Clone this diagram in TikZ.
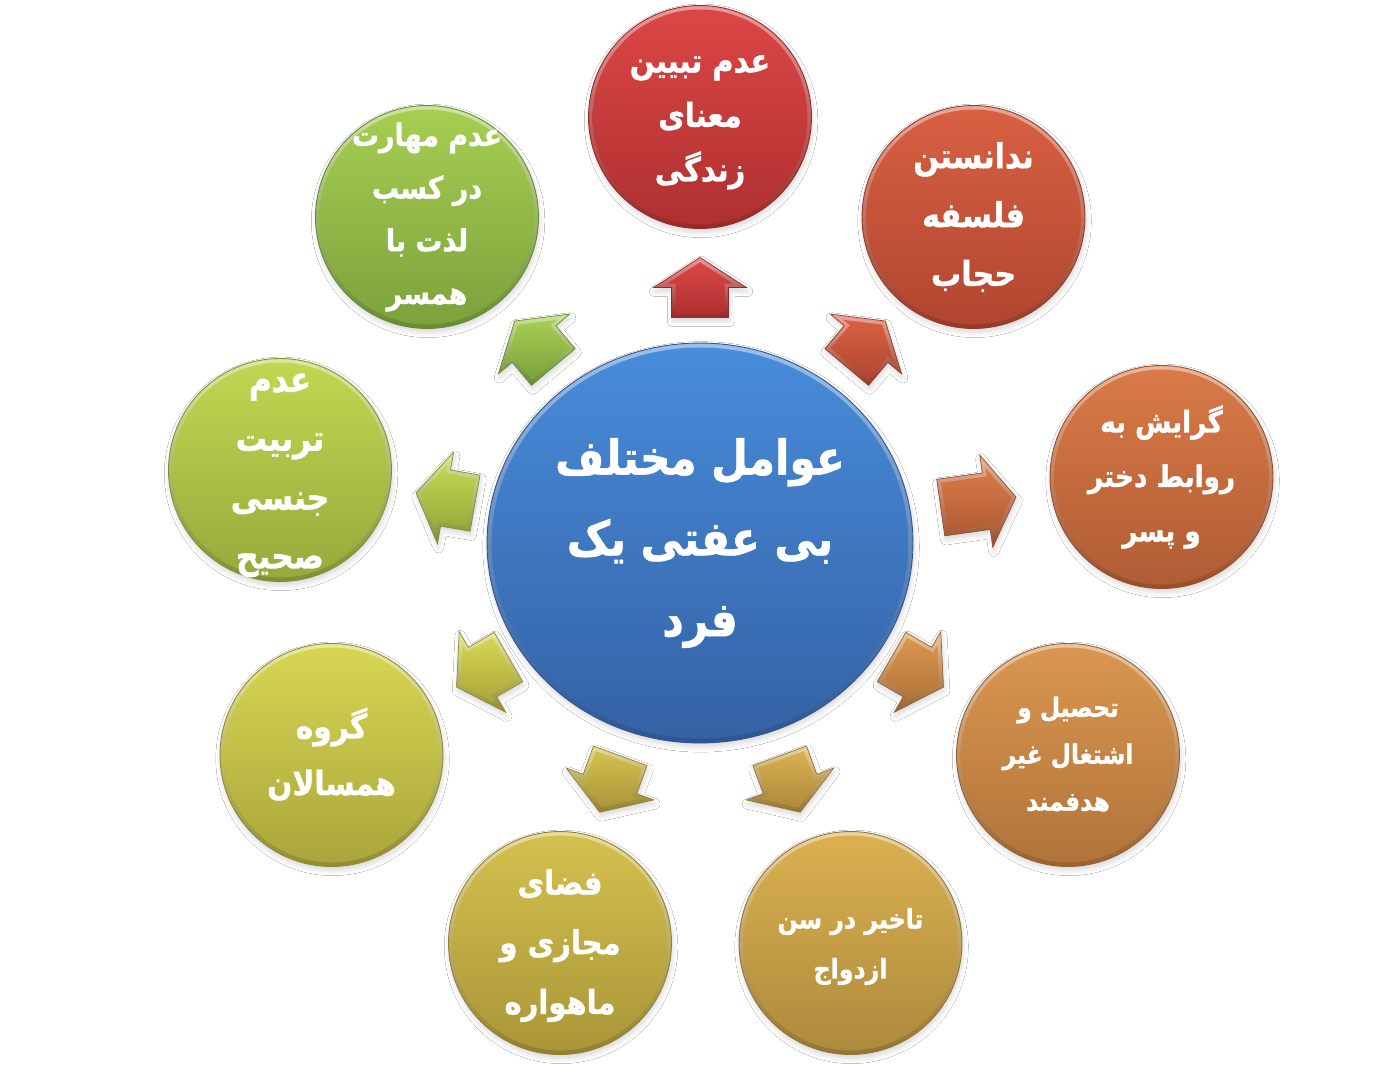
\documentclass[tikz,border=0pt]{standalone}
\usepackage{fontspec}
\newfontfamily\arabicfont[Script=Arabic, FakeStretch=0.88, BoldFeatures={FakeBold=1.2}]{DejaVu Sans}
\TeXXeTstate=1
\usetikzlibrary{shapes.geometric,shadows.blur}
\newcommand{\fa}[1]{\beginR #1\endR}

\definecolor{c0t}{RGB}{72,140,218}\definecolor{c0b}{RGB}{52,98,165}\definecolor{c0e}{RGB}{45,85,145}
\definecolor{c1t}{RGB}{220,70,70}\definecolor{c1b}{RGB}{175,48,48}\definecolor{c1e}{RGB}{150,40,40}
\definecolor{c2t}{RGB}{216,96,66}\definecolor{c2b}{RGB}{176,70,48}\definecolor{c2e}{RGB}{150,58,40}
\definecolor{c3t}{RGB}{217,122,72}\definecolor{c3b}{RGB}{176,92,52}\definecolor{c3e}{RGB}{150,78,44}
\definecolor{c4t}{RGB}{218,150,80}\definecolor{c4b}{RGB}{176,116,58}\definecolor{c4e}{RGB}{150,98,48}
\definecolor{c5t}{RGB}{218,176,80}\definecolor{c5b}{RGB}{174,138,60}\definecolor{c5e}{RGB}{148,116,50}
\definecolor{c6t}{RGB}{212,192,78}\definecolor{c6b}{RGB}{170,150,56}\definecolor{c6e}{RGB}{145,128,46}
\definecolor{c7t}{RGB}{214,214,82}\definecolor{c7b}{RGB}{170,166,60}\definecolor{c7e}{RGB}{145,140,50}
\definecolor{c8t}{RGB}{194,214,82}\definecolor{c8b}{RGB}{150,170,60}\definecolor{c8e}{RGB}{125,145,50}
\definecolor{c9t}{RGB}{166,206,82}\definecolor{c9b}{RGB}{124,162,60}\definecolor{c9e}{RGB}{104,138,50}

\tikzset{
  softshadow/.style={blur shadow={shadow xshift=0.6pt, shadow yshift=-2.2pt, shadow opacity=16, shadow blur radius=3pt, shadow blur steps=6}},
  bubble/.style={circle, inner sep=0pt, minimum size=4.46cm,
    softshadow, top color=#1t!55!white, bottom color=#1e, draw=#1e, line width=0.5pt},
  bubblein/.style={circle, inner sep=0pt, minimum size=4.30cm, top color=#1t, bottom color=#1b},
  hub/.style={ellipse, inner sep=0pt, minimum width=8.52cm, minimum height=8cm,
    softshadow, top color=c0t!55!white, bottom color=c0e, draw=c0e, line width=0.5pt},
  hubin/.style={ellipse, inner sep=0pt, minimum width=8.34cm, minimum height=7.82cm,
    top color=c0t, bottom color=c0b},
  label/.style n args={2}{text=white, align=center, inner sep=0pt,
    font=\arabicfont\bfseries\fontsize{#1}{#2}\selectfont},
  arrowrim/.style={softshadow, top color=#1t!55!white, bottom color=#1e, draw=#1e, line width=0.4pt},
  arrowface/.style={top color=#1t, bottom color=#1b},
}
% block arrow: centre x, centre y, direction, colour prefix, tail length (px)
\newcommand{\blockarr}[5]{%
  \begin{scope}[shift={(#1,#2)}, rotate=#3]
    \path[arrowrim=#4] (-#5,-28.5) -- (0,-28.5) -- (0,-46.5) -- (30,0) -- (0,46.5) -- (0,28.5) -- (-#5,28.5) -- cycle;
    \path[arrowface=#4] (-#5+4,-24.5) -- (4,-24.5) -- (4,-32.9) -- (25.2,0) -- (4,32.9) -- (4,24.5) -- (-#5+4,24.5) -- cycle;
  \end{scope}}

\begin{document}
\begin{tikzpicture}[x=0.02cm,y=-0.02cm]
\useasboundingbox[fill=white] (0,0) rectangle (1400,1080);

% central hub
\node[hub] (hub) at (700,543) {};
\node[hubin] (hubi) at (hub) {};
\node[label={27.3}{46}] (hubt) at (hub) {\fa{عوامل مختلف}\\\fa{بی عفتی یک}\\\fa{فرد}};

% outer bubbles
\foreach \n/\x/\y in {1/700/117, 2/973.5/217, 3/1161.5/477, 4/1068/755, 5/850.5/943,
                      6/560/943, 7/331.5/755, 8/280/470, 9/427/217}{
  \node[bubble=c\n] (c\n) at (\x,\y) {};
  \node[bubblein=c\n] (c\n i) at (c\n) {};
}

\node[label={18.75}{31}, yshift=-3pt] (t1) at (c1) {\fa{عدم تبیین}\\\fa{معنای}\\\fa{زندگی}};
\node[label={19.5}{33.5}] (t2) at (c2) {\fa{ندانستن}\\\fa{فلسفه}\\\fa{حجاب}};
\node[label={17}{31}] (t3) at (c3) {\fa{گرایش به}\\\fa{روابط دختر}\\\fa{و پسر}};
\node[label={15.1}{26.7}, yshift=0.5pt] (t4) at (c4) {\fa{تحصیل و}\\\fa{اشتغال غیر}\\\fa{هدفمند}};
\node[label={15.3}{28.4}, yshift=-2pt] (t5) at (c5) {\fa{تاخیر در سن}\\\fa{ازدواج}};
\node[label={18.75}{34}, yshift=-1.5pt] (t6) at (c6) {\fa{فضای}\\\fa{مجازی و}\\\fa{ماهواره}};
\node[label={19.1}{32.3}, yshift=0.5pt] (t7) at (c7) {\fa{گروه}\\\fa{همسالان}};
\node[label={20.2}{33.5}, yshift=-3pt] (t8) at (c8) {\fa{عدم}\\\fa{تربیت}\\\fa{جنسی}\\\fa{صحیح}};
\node[label={17.4}{30}] (t9) at (c9) {\fa{عدم مهارت}\\\fa{در کسب}\\\fa{لذت با}\\\fa{همسر}};

% block arrows
\blockarr{700}{287.5}{90}{c1}{30}
\blockarr{866}{344}{50}{c2}{30}
\blockarr{986.3}{501.2}{8}{c3}{46}
\blockarr{917.5}{672}{-30}{c4}{30}
\blockarr{790}{784}{-70}{c5}{30}
\blockarr{610}{784}{-110}{c6}{30}
\blockarr{482.5}{672}{-150}{c7}{30}
\blockarr{445.5}{498}{170}{c8}{30}
\blockarr{534}{344}{130}{c9}{30}
\end{tikzpicture}
\end{document}
